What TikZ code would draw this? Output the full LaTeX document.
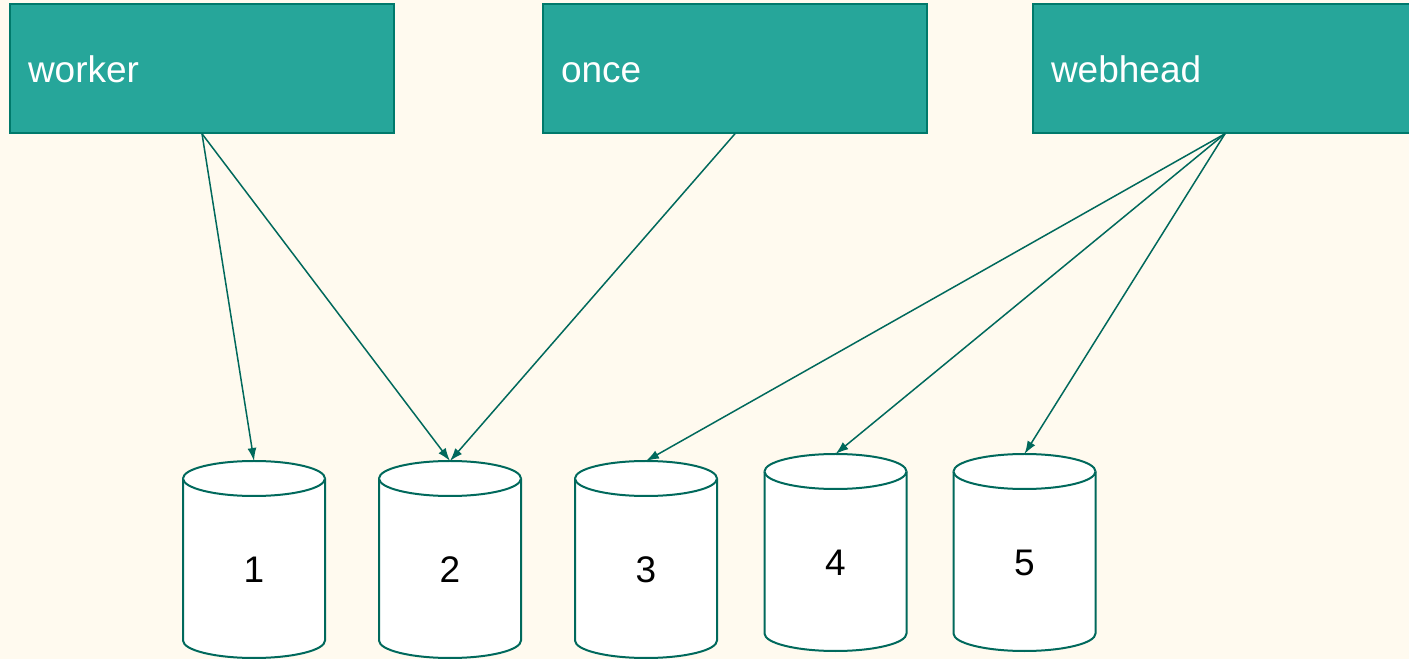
\documentclass[tikz,border=0pt]{standalone}
\usepackage{fontspec}
\setmainfont{Liberation Sans}
\usetikzlibrary{arrows.meta}
\definecolor{bgc}{HTML}{FFFAEF}
\definecolor{boxfill}{HTML}{26A69A}
\definecolor{boxline}{HTML}{00796B}
\definecolor{linec}{HTML}{00695C}
\newcommand\dbcyl[3]{%
  \filldraw[cylline] ({#1-71},{#2-17.5}) -- ({#1-71},{#3+17.5})
    arc[start angle=180, end angle=360, x radius=71, y radius=17.5]
    -- ({#1+71},{#2-17.5})
    arc[start angle=0, end angle=180, x radius=71, y radius=17.5] -- cycle;
  \draw[cylline] ({#1-71},{#2-17.5})
    arc[start angle=180, end angle=360, x radius=71, y radius=17.5];
}
\begin{document}
\begin{tikzpicture}[x=1pt,y=1pt,
  svc/.style={draw=boxline, line width=1.5pt, fill=boxfill, rectangle,
    minimum width=384pt, minimum height=129pt, inner xsep=18pt, inner ysep=0pt,
    text width=348pt, align=left, text=white, text height=29pt, text depth=0pt,
    font=\fontsize{37}{44}\selectfont},
  cylline/.style={draw=linec, line width=2pt, fill=white},
  lbl/.style={text=black, font=\fontsize{37}{44}\selectfont, inner sep=0pt},
  conn/.style={draw=linec, line width=1.5pt, -{Latex[length=13pt,width=9pt]}}]
\useasboundingbox (0,0) rectangle (1409,659);
\fill[bgc] (0,0) rectangle (1409,659);

\node[svc] (worker) at (202,590.5) {worker};
\node[svc] (once) at (735,590.5) {once};
\node[svc] (webhead) at (1225,590.5) {webhead};

\dbcyl{254}{198}{1}
\dbcyl{450}{198}{1}
\dbcyl{646}{198}{1}
\dbcyl{835.5}{205}{8}
\dbcyl{1024.5}{205}{8}

\coordinate (t1) at (254,198);
\coordinate (t2) at (450,198);
\coordinate (t3) at (646,198);
\coordinate (t4) at (835.5,205);
\coordinate (t5) at (1024.5,205);

\node[lbl] (c1) at (254,89) {1};
\node[lbl] (c2) at (450,89) {2};
\node[lbl] (c3) at (646,89) {3};
\node[lbl] (c4) at (835.5,96) {4};
\node[lbl] (c5) at (1024.5,96) {5};

\draw[conn] (worker.south) -- (t1);
\draw[conn] (worker.south) -- (t2);
\draw[conn] (once.south) -- (t2);
\draw[conn] (webhead.south) -- (t3);
\draw[conn] (webhead.south) -- (t4);
\draw[conn] (webhead.south) -- (t5);
\end{tikzpicture}
\end{document}
